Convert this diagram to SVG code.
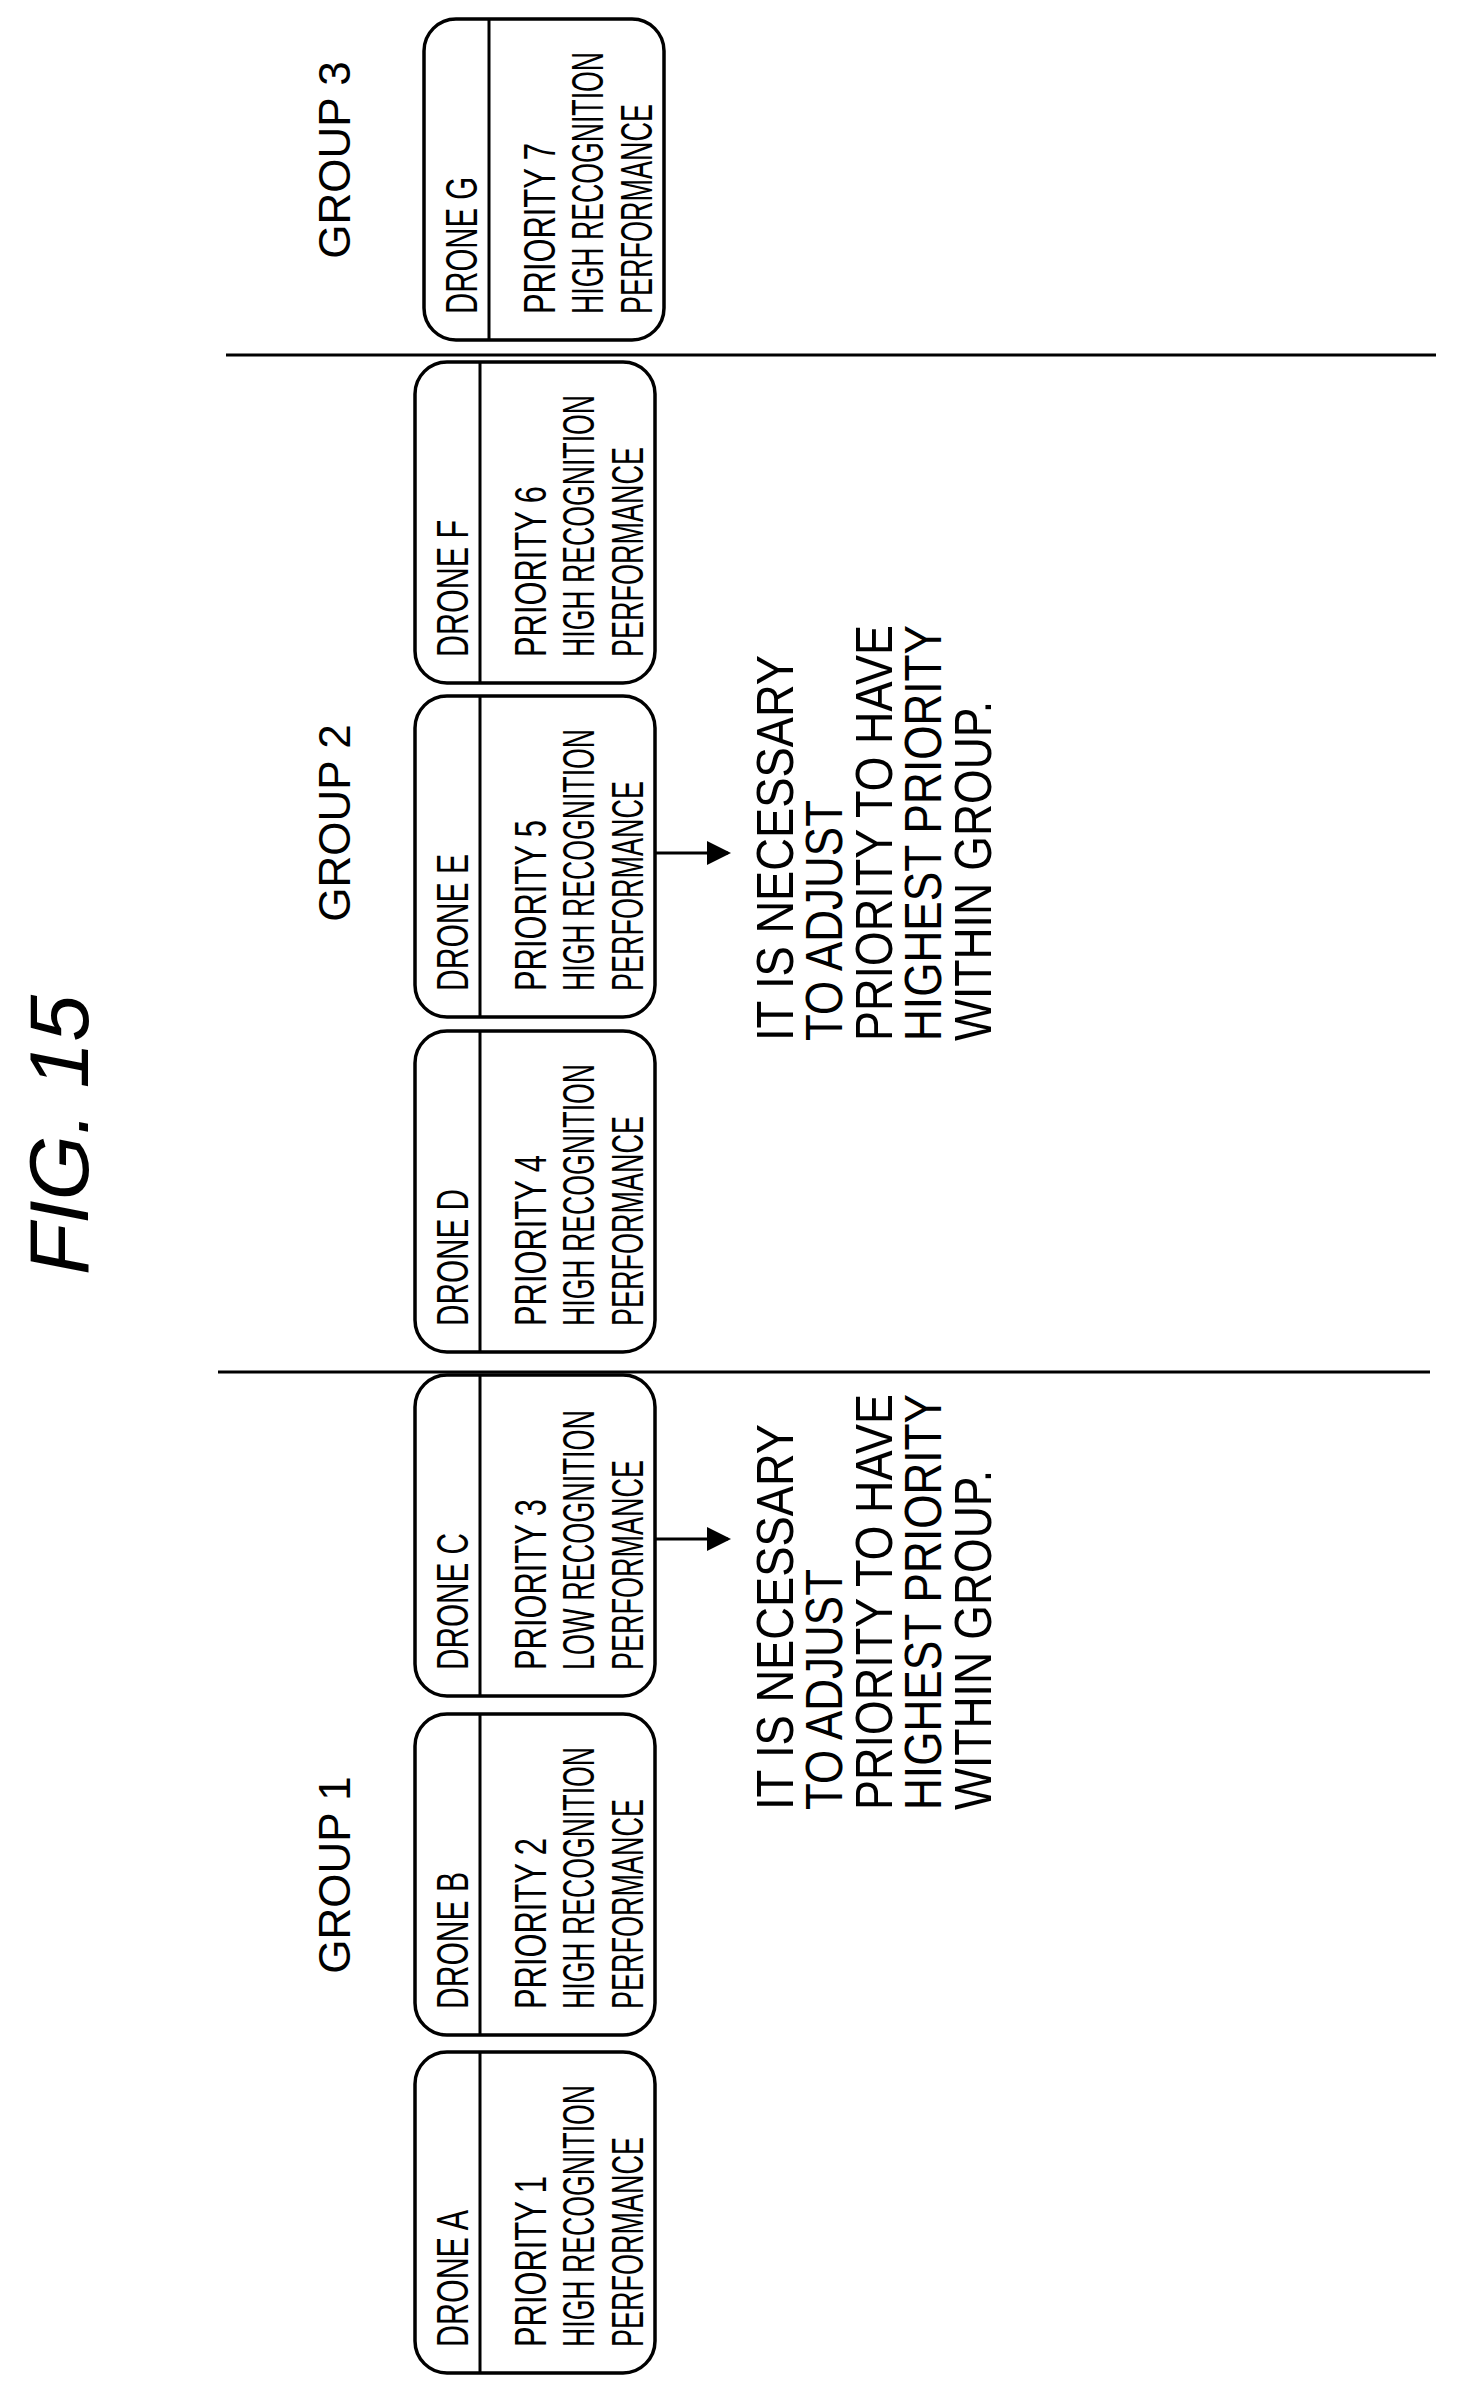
<svg xmlns="http://www.w3.org/2000/svg" width="1463" height="2400" viewBox="0 0 1463 2400">
<style>
.box{fill:#fff;stroke:#000;stroke-width:3.5}
.div{stroke:#000;stroke-width:3}
.t{font-family:"Liberation Sans",Arial,sans-serif;font-size:44px;fill:#000}
.g{font-family:"Liberation Sans",Arial,sans-serif;font-size:44px;fill:#000}
.n{font-family:"Liberation Sans",Arial,sans-serif;font-size:52px;fill:#000}
.ln{stroke:#000;stroke-width:3}
</style>
<defs>
<marker id="ah" markerWidth="8" markerHeight="8" refX="7" refY="4" orient="auto" markerUnits="strokeWidth"><path d="M0,0 L8,4 L0,8 z" fill="#000"/></marker>
<g id="card">
<rect class="box" x="0" y="-321" width="240" height="321" rx="32"/>
<line class="div" x1="65" y1="-321" x2="65" y2="0"/>
</g>
</defs>
<text transform="translate(88,1135) rotate(-90)" text-anchor="middle" font-family="Liberation Sans,Arial,sans-serif" font-style="italic" font-size="84">FIG. 15</text>
<g id="labels">
<text class="g" transform="translate(350,1875) rotate(-90)" text-anchor="middle">GROUP 1</text>
<text class="g" transform="translate(350,823) rotate(-90)" text-anchor="middle">GROUP 2</text>
<text class="g" transform="translate(350,160) rotate(-90)" text-anchor="middle">GROUP 3</text>
</g>
<g id="droneA" transform="translate(415,2373)"><use href="#card"/>
<text class="t" transform="translate(53,-26) rotate(-90)" textLength="137" lengthAdjust="spacingAndGlyphs">DRONE A</text>
<text class="t" transform="translate(131,-26) rotate(-90)" textLength="171" lengthAdjust="spacingAndGlyphs">PRIORITY 1</text>
<text class="t" transform="translate(179,-26) rotate(-90)" textLength="262" lengthAdjust="spacingAndGlyphs">HIGH RECOGNITION</text>
<text class="t" transform="translate(228,-26) rotate(-90)" textLength="210" lengthAdjust="spacingAndGlyphs">PERFORMANCE</text></g>
<g id="droneB" transform="translate(415,2035)"><use href="#card"/>
<text class="t" transform="translate(53,-26) rotate(-90)" textLength="137" lengthAdjust="spacingAndGlyphs">DRONE B</text>
<text class="t" transform="translate(131,-26) rotate(-90)" textLength="171" lengthAdjust="spacingAndGlyphs">PRIORITY 2</text>
<text class="t" transform="translate(179,-26) rotate(-90)" textLength="262" lengthAdjust="spacingAndGlyphs">HIGH RECOGNITION</text>
<text class="t" transform="translate(228,-26) rotate(-90)" textLength="210" lengthAdjust="spacingAndGlyphs">PERFORMANCE</text></g>
<g id="droneC" transform="translate(415,1696)"><use href="#card"/>
<text class="t" transform="translate(53,-26) rotate(-90)" textLength="137" lengthAdjust="spacingAndGlyphs">DRONE C</text>
<text class="t" transform="translate(131,-26) rotate(-90)" textLength="171" lengthAdjust="spacingAndGlyphs">PRIORITY 3</text>
<text class="t" transform="translate(179,-26) rotate(-90)" textLength="260" lengthAdjust="spacingAndGlyphs">LOW RECOGNITION</text>
<text class="t" transform="translate(228,-26) rotate(-90)" textLength="210" lengthAdjust="spacingAndGlyphs">PERFORMANCE</text></g>
<g id="droneD" transform="translate(415,1352)"><use href="#card"/>
<text class="t" transform="translate(53,-26) rotate(-90)" textLength="137" lengthAdjust="spacingAndGlyphs">DRONE D</text>
<text class="t" transform="translate(131,-26) rotate(-90)" textLength="171" lengthAdjust="spacingAndGlyphs">PRIORITY 4</text>
<text class="t" transform="translate(179,-26) rotate(-90)" textLength="262" lengthAdjust="spacingAndGlyphs">HIGH RECOGNITION</text>
<text class="t" transform="translate(228,-26) rotate(-90)" textLength="210" lengthAdjust="spacingAndGlyphs">PERFORMANCE</text></g>
<g id="droneE" transform="translate(415,1017)"><use href="#card"/>
<text class="t" transform="translate(53,-26) rotate(-90)" textLength="137" lengthAdjust="spacingAndGlyphs">DRONE E</text>
<text class="t" transform="translate(131,-26) rotate(-90)" textLength="171" lengthAdjust="spacingAndGlyphs">PRIORITY 5</text>
<text class="t" transform="translate(179,-26) rotate(-90)" textLength="262" lengthAdjust="spacingAndGlyphs">HIGH RECOGNITION</text>
<text class="t" transform="translate(228,-26) rotate(-90)" textLength="210" lengthAdjust="spacingAndGlyphs">PERFORMANCE</text></g>
<g id="droneF" transform="translate(415,683)"><use href="#card"/>
<text class="t" transform="translate(53,-26) rotate(-90)" textLength="137" lengthAdjust="spacingAndGlyphs">DRONE F</text>
<text class="t" transform="translate(131,-26) rotate(-90)" textLength="171" lengthAdjust="spacingAndGlyphs">PRIORITY 6</text>
<text class="t" transform="translate(179,-26) rotate(-90)" textLength="262" lengthAdjust="spacingAndGlyphs">HIGH RECOGNITION</text>
<text class="t" transform="translate(228,-26) rotate(-90)" textLength="210" lengthAdjust="spacingAndGlyphs">PERFORMANCE</text></g>
<g id="droneG" transform="translate(424,340)"><use href="#card"/>
<text class="t" transform="translate(53,-26) rotate(-90)" textLength="137" lengthAdjust="spacingAndGlyphs">DRONE G</text>
<text class="t" transform="translate(131,-26) rotate(-90)" textLength="171" lengthAdjust="spacingAndGlyphs">PRIORITY 7</text>
<text class="t" transform="translate(179,-26) rotate(-90)" textLength="262" lengthAdjust="spacingAndGlyphs">HIGH RECOGNITION</text>
<text class="t" transform="translate(228,-26) rotate(-90)" textLength="210" lengthAdjust="spacingAndGlyphs">PERFORMANCE</text></g>
<g id="note1" class="n">
<text transform="translate(793,1810) rotate(-90)" textLength="386" lengthAdjust="spacingAndGlyphs">IT IS NECESSARY</text>
<text transform="translate(842,1810) rotate(-90)" textLength="241" lengthAdjust="spacingAndGlyphs">TO ADJUST</text>
<text transform="translate(892,1810) rotate(-90)" textLength="416" lengthAdjust="spacingAndGlyphs">PRIORITY TO HAVE</text>
<text transform="translate(941,1810) rotate(-90)" textLength="416" lengthAdjust="spacingAndGlyphs">HIGHEST PRIORITY</text>
<text transform="translate(991,1810) rotate(-90)" textLength="340" lengthAdjust="spacingAndGlyphs">WITHIN GROUP.</text>
</g>
<g id="note2" class="n">
<text transform="translate(793,1041) rotate(-90)" textLength="386" lengthAdjust="spacingAndGlyphs">IT IS NECESSARY</text>
<text transform="translate(842,1041) rotate(-90)" textLength="241" lengthAdjust="spacingAndGlyphs">TO ADJUST</text>
<text transform="translate(892,1041) rotate(-90)" textLength="416" lengthAdjust="spacingAndGlyphs">PRIORITY TO HAVE</text>
<text transform="translate(941,1041) rotate(-90)" textLength="416" lengthAdjust="spacingAndGlyphs">HIGHEST PRIORITY</text>
<text transform="translate(991,1041) rotate(-90)" textLength="340" lengthAdjust="spacingAndGlyphs">WITHIN GROUP.</text>
</g>
<g id="connectors">
<line class="ln" x1="218" y1="1372" x2="1430" y2="1372"/>
<line class="ln" x1="226" y1="355" x2="1436" y2="355"/>
<line class="ln" x1="655" y1="1539" x2="728" y2="1539" marker-end="url(#ah)"/>
<line class="ln" x1="655" y1="853" x2="728" y2="853" marker-end="url(#ah)"/>
</g>
</svg>
